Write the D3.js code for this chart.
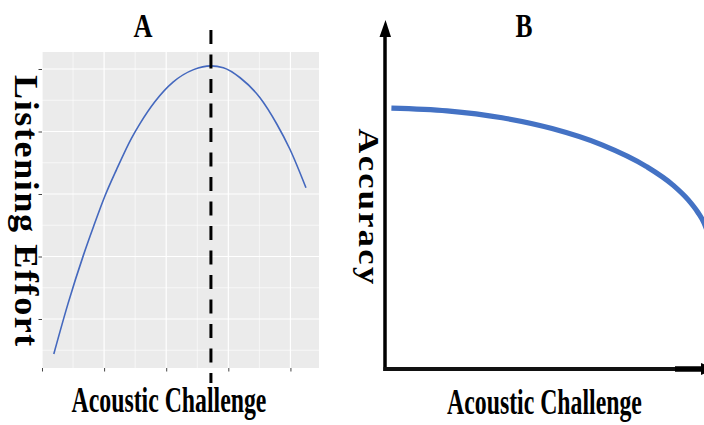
<!DOCTYPE html>
<html><head><meta charset="utf-8">
<script src="https://cdn.jsdelivr.net/npm/d3@7"></script>
<style>html,body{margin:0;padding:0;background:#fff;}svg{display:block;}</style>
</head><body>
<svg id="chart" width="704" height="425"></svg>
<script>
// ---- Panel A data (listening effort vs acoustic challenge) ----
const effortX = [0.19,0.42,0.67,0.83,1.01,1.20,1.44,1.58,1.82,2.11,2.44,2.72,2.92,3.19,3.51,3.78,3.99,4.25];
const effortY = [-0.56,0.25,1.03,1.48,1.96,2.39,2.89,3.13,3.48,3.79,3.99,4.05,4.02,3.86,3.54,3.12,2.72,2.10];
const peakX = 2.72;
const majorTicksX = [0,1,2,3,4];
const minorTicksX = [0.5,1.5,2.5,3.5];
const majorTicksY = [0,1,2,3,4];
const minorTicksY = [-0.5,0.5,1.5,2.5,3.5];
// ---- Panel B data (accuracy vs acoustic challenge) ----
const accX = [2.0,19.4,36.6,52.2,67.8,81.6,90.0,94.7,97.8,99.7,101.3];
const accY = [75.2,74.4,72.4,69.3,64.6,58.4,53.0,48.8,45.1,42.1,38.2];
// ---- Text ----
const titleA = "A", titleB = "B";
const xTitle = "Acoustic Challenge";
const yTitleA = "Listening Effort", yTitleB = "Accuracy";

const svg = d3.select("#chart");
const serif = "'Liberation Serif','DejaVu Serif',serif";

// helper: text fitted to a target length via scale transform
function fitText(g, str, x, y, rot, size, target, spacing) {
  const t = g.append("text").attr("text-anchor", "middle")
    .attr("font-family", serif).attr("font-weight", "bold").attr("font-size", size)
    .attr("letter-spacing", spacing || 0).text(str);
  const w = t.node().getComputedTextLength();
  const s = target / w;
  t.attr("transform", `translate(${x},${y}) rotate(${rot}) scale(${s},1)`);
  return t;
}

// ===== Panel A =====
const xA = d3.scaleLinear().domain([0, 4.46]).range([42, 319]);
const yA = d3.scaleLinear().domain([-0.784, 4.272]).range([368, 52]);
const gA = svg.append("g");
gA.append("rect").attr("x", xA(0)).attr("y", yA(4.272))
  .attr("width", xA(4.46) - xA(0)).attr("height", yA(-0.784) - yA(4.272))
  .attr("fill", "#EBEBEB");
gA.selectAll(".vminor").data(minorTicksX).join("line")
  .attr("x1", d => xA(d)).attr("x2", d => xA(d)).attr("y1", 52).attr("y2", 368)
  .attr("stroke", "#fff").attr("stroke-width", 0.6);
gA.selectAll(".hminor").data(minorTicksY).join("line")
  .attr("y1", d => yA(d)).attr("y2", d => yA(d)).attr("x1", 42).attr("x2", 319)
  .attr("stroke", "#fff").attr("stroke-width", 0.6);
gA.selectAll(".vmajor").data(majorTicksX).join("line")
  .attr("x1", d => xA(d)).attr("x2", d => xA(d)).attr("y1", 52).attr("y2", 368)
  .attr("stroke", "#fff").attr("stroke-width", 1.2);
gA.selectAll(".hmajor").data(majorTicksY).join("line")
  .attr("y1", d => yA(d)).attr("y2", d => yA(d)).attr("x1", 42).attr("x2", 319)
  .attr("stroke", "#fff").attr("stroke-width", 1.2);
const axB = d3.axisBottom(xA).tickValues(majorTicksX).tickFormat("").tickSizeInner(3.5).tickSizeOuter(0);
const axL = d3.axisLeft(yA).tickValues(majorTicksY).tickFormat("").tickSizeInner(3.5).tickSizeOuter(0);
const gx = gA.append("g").attr("transform", "translate(0,368)").call(axB);
const gy = gA.append("g").attr("transform", "translate(42,0)").call(axL);
[gx, gy].forEach(g => { g.select(".domain").remove(); g.selectAll("line").attr("stroke", "#444").attr("stroke-width", 1); });
gA.append("path")
  .datum(effortX.map((x, i) => [x, effortY[i]]))
  .attr("d", d3.line().x(d => xA(d[0])).y(d => yA(d[1])).curve(d3.curveMonotoneX))
  .attr("fill", "none").attr("stroke", "#4468BE").attr("stroke-width", 1.6);
gA.append("line").attr("x1", xA(peakX)).attr("x2", xA(peakX)).attr("y1", 30).attr("y2", 383)
  .attr("stroke", "#000").attr("stroke-width", 3).attr("stroke-dasharray", "14,10.5");
fitText(gA, titleA, 143, 37, 0, 34, 19, 0);
fitText(gA, xTitle, 169, 412, 0, 35, 195, 0);
fitText(gA, yTitleA, 15, 211.5, 90, 34, 273, 1.5);

// ===== Panel B =====
const xB = d3.scaleLinear().domain([0, 100]).range([385, 705]);
const yB = d3.scaleLinear().domain([0, 100]).range([369, 22]);
const gB = svg.append("g");
gB.append("line").attr("x1", xB(0)).attr("x2", xB(0)).attr("y1", yB(0) + 2).attr("y2", 34)
  .attr("stroke", "#000").attr("stroke-width", 3.5);
gB.append("path").attr("d", `M${xB(0) - 5.5},37 L${xB(0) + 0.5},20 L${xB(0) + 6},37 Z`).attr("fill", "#000");
gB.append("line").attr("x1", xB(0) - 1.5).attr("x2", 702).attr("y1", yB(0)).attr("y2", yB(0))
  .attr("stroke", "#111").attr("stroke-width", 4);
gB.append("line").attr("x1", 675).attr("x2", 702).attr("y1", yB(0)).attr("y2", yB(0))
  .attr("stroke", "#000").attr("stroke-width", 5.5);
gB.append("path").attr("d", `M701,${yB(0) - 6} L716,${yB(0)} L701,${yB(0) + 6} Z`).attr("fill", "#000");
gB.append("path")
  .datum(accX.map((x, i) => [x, accY[i]]))
  .attr("d", d3.line().x(d => xB(d[0])).y(d => yB(d[1])).curve(d3.curveMonotoneX))
  .attr("fill", "none").attr("stroke", "#4472C4").attr("stroke-width", 5.2);
fitText(gB, titleB, 524, 37, 0, 34, 17, 0);
fitText(gB, xTitle, 544.5, 414, 0, 35, 195, 0);
fitText(gB, yTitleB, 359, 207.5, 90, 30, 158, 2);
</script>
</body></html>
